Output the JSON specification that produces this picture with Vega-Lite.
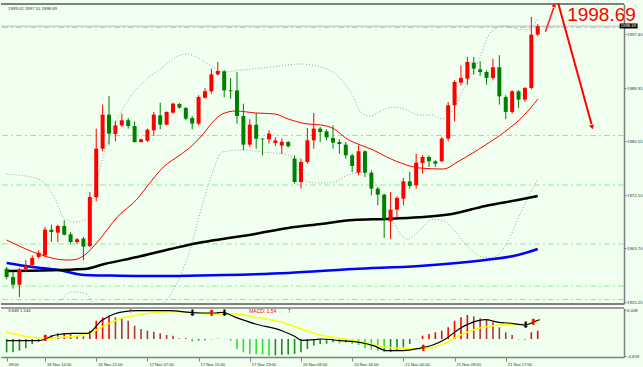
{
"$schema": "https://vega.github.io/schema/vega-lite/v6.json",
"background": "#f0fff0",
"padding": {"left": 0, "top": 2, "right": 0, "bottom": 0},
"spacing": 2,
"config": {"view": {"stroke": null}, "axis": {"title": null, "grid": false, "labelFont": "Liberation Sans", "labelFontSize": 4.3, "labelColor": "#333333", "domainColor": "#808080", "tickColor": "#808080", "tickSize": 2, "labelPadding": 0.5, "labelOverlap": false, "labelBound": false}},
"datasets": {
"one": [{}],
"candles": [
{"i":0,"o":1960.52,"h":1960.79,"l":1958.84,"c":1959.21},
{"i":1,"o":1959.21,"h":1960.00,"l":1957.38,"c":1958.00},
{"i":2,"o":1958.00,"h":1960.63,"l":1956.06,"c":1960.37},
{"i":3,"o":1960.42,"h":1961.84,"l":1960.00,"c":1960.94},
{"i":4,"o":1961.05,"h":1962.62,"l":1960.79,"c":1962.20},
{"i":5,"o":1962.36,"h":1963.41,"l":1962.10,"c":1963.04},
{"i":6,"o":1962.62,"h":1967.08,"l":1962.36,"c":1966.66},
{"i":7,"o":1966.66,"h":1967.45,"l":1964.72,"c":1966.29},
{"i":8,"o":1966.19,"h":1967.45,"l":1964.72,"c":1967.24},
{"i":9,"o":1967.24,"h":1968.13,"l":1965.77,"c":1965.87},
{"i":10,"o":1965.93,"h":1966.29,"l":1964.35,"c":1964.72},
{"i":11,"o":1964.72,"h":1965.35,"l":1964.46,"c":1965.14},
{"i":12,"o":1965.25,"h":1965.51,"l":1961.84,"c":1963.99},
{"i":13,"o":1964.09,"h":1972.59,"l":1963.93,"c":1971.80},
{"i":14,"o":1971.75,"h":1982.56,"l":1971.12,"c":1979.41},
{"i":15,"o":1979.41,"h":1986.34,"l":1978.99,"c":1984.76},
{"i":16,"o":1984.76,"h":1987.70,"l":1980.04,"c":1981.77},
{"i":17,"o":1981.72,"h":1983.77,"l":1980.57,"c":1983.08},
{"i":18,"o":1983.08,"h":1984.92,"l":1982.82,"c":1983.87},
{"i":19,"o":1983.87,"h":1984.24,"l":1982.56,"c":1982.98},
{"i":20,"o":1982.98,"h":1983.71,"l":1980.36,"c":1980.46},
{"i":21,"o":1980.46,"h":1980.99,"l":1980.36,"c":1980.88},
{"i":22,"o":1980.67,"h":1982.56,"l":1980.46,"c":1982.40},
{"i":23,"o":1982.30,"h":1985.18,"l":1981.41,"c":1984.76},
{"i":24,"o":1984.66,"h":1986.65,"l":1982.45,"c":1983.19},
{"i":25,"o":1983.19,"h":1985.29,"l":1983.08,"c":1985.18},
{"i":26,"o":1985.08,"h":1986.65,"l":1984.92,"c":1986.49},
{"i":27,"o":1986.44,"h":1986.60,"l":1985.71,"c":1985.86},
{"i":28,"o":1985.81,"h":1985.97,"l":1983.87,"c":1984.13},
{"i":29,"o":1984.24,"h":1984.55,"l":1982.45,"c":1983.35},
{"i":30,"o":1983.35,"h":1987.81,"l":1983.08,"c":1987.54},
{"i":31,"o":1987.43,"h":1988.96,"l":1987.28,"c":1988.44},
{"i":32,"o":1988.44,"h":1992.00,"l":1988.07,"c":1991.11},
{"i":33,"o":1991.11,"h":1993.05,"l":1990.95,"c":1991.64},
{"i":34,"o":1991.58,"h":1991.80,"l":1987.50,"c":1988.59},
{"i":35,"o":1988.59,"h":1990.53,"l":1987.28,"c":1988.45},
{"i":36,"o":1988.59,"h":1991.48,"l":1983.35,"c":1984.55},
{"i":37,"o":1984.55,"h":1986.49,"l":1979.15,"c":1980.04},
{"i":38,"o":1980.04,"h":1984.03,"l":1979.67,"c":1983.19},
{"i":39,"o":1983.19,"h":1985.02,"l":1979.41,"c":1980.99},
{"i":40,"o":1980.99,"h":1981.05,"l":1978.36,"c":1980.88},
{"i":41,"o":1980.88,"h":1982.30,"l":1980.20,"c":1981.77},
{"i":42,"o":1980.30,"h":1981.20,"l":1979.80,"c":1980.70},
{"i":43,"o":1979.90,"h":1981.00,"l":1978.60,"c":1980.50},
{"i":44,"o":1980.46,"h":1980.60,"l":1979.60,"c":1979.78},
{"i":45,"o":1977.84,"h":1978.36,"l":1973.90,"c":1974.16},
{"i":46,"o":1974.16,"h":1977.84,"l":1973.12,"c":1977.31},
{"i":47,"o":1977.31,"h":1982.66,"l":1977.05,"c":1980.72},
{"i":48,"o":1980.72,"h":1985.02,"l":1979.41,"c":1982.56},
{"i":49,"o":1982.56,"h":1982.82,"l":1980.46,"c":1982.03},
{"i":50,"o":1982.14,"h":1982.45,"l":1980.72,"c":1981.19},
{"i":51,"o":1981.09,"h":1983.08,"l":1979.41,"c":1980.36},
{"i":52,"o":1980.46,"h":1980.88,"l":1978.62,"c":1980.15},
{"i":53,"o":1980.04,"h":1980.46,"l":1977.84,"c":1978.36},
{"i":54,"o":1978.36,"h":1978.62,"l":1975.74,"c":1976.68},
{"i":55,"o":1975.63,"h":1979.94,"l":1975.21,"c":1979.00},
{"i":56,"o":1979.00,"h":1979.15,"l":1974.95,"c":1975.63},
{"i":57,"o":1975.63,"h":1976.00,"l":1972.07,"c":1973.12},
{"i":58,"o":1973.12,"h":1973.38,"l":1970.49,"c":1972.17},
{"i":59,"o":1972.17,"h":1972.33,"l":1965.35,"c":1968.39},
{"i":60,"o":1967.97,"h":1972.59,"l":1965.24,"c":1969.81},
{"i":61,"o":1969.81,"h":1971.91,"l":1968.66,"c":1971.65},
{"i":62,"o":1971.54,"h":1974.79,"l":1970.49,"c":1974.27},
{"i":63,"o":1974.27,"h":1975.74,"l":1973.12,"c":1973.53},
{"i":64,"o":1973.64,"h":1978.62,"l":1973.12,"c":1977.21},
{"i":65,"o":1977.16,"h":1978.37,"l":1975.48,"c":1978.10},
{"i":66,"o":1978.10,"h":1978.37,"l":1976.53,"c":1977.42},
{"i":67,"o":1977.42,"h":1977.58,"l":1976.53,"c":1977.05},
{"i":68,"o":1977.42,"h":1981.25,"l":1977.32,"c":1980.99},
{"i":69,"o":1980.99,"h":1986.76,"l":1980.57,"c":1986.24},
{"i":70,"o":1986.24,"h":1990.17,"l":1983.72,"c":1989.91},
{"i":71,"o":1989.80,"h":1992.53,"l":1989.38,"c":1990.54},
{"i":72,"o":1990.43,"h":1993.84,"l":1989.49,"c":1993.06},
{"i":73,"o":1992.95,"h":1993.84,"l":1991.06,"c":1992.01},
{"i":74,"o":1991.90,"h":1993.16,"l":1990.85,"c":1991.48},
{"i":75,"o":1991.48,"h":1991.74,"l":1989.49,"c":1990.54},
{"i":76,"o":1990.54,"h":1993.58,"l":1990.17,"c":1992.22},
{"i":77,"o":1992.22,"h":1994.11,"l":1986.34,"c":1987.65},
{"i":78,"o":1987.55,"h":1987.81,"l":1984.03,"c":1985.19},
{"i":79,"o":1985.19,"h":1988.60,"l":1984.92,"c":1988.44},
{"i":80,"o":1988.44,"h":1988.60,"l":1985.82,"c":1987.13},
{"i":81,"o":1987.13,"h":1989.12,"l":1986.76,"c":1988.96},
{"i":82,"o":1988.96,"h":2000.14,"l":1988.75,"c":1997.36},
{"i":83,"o":1997.36,"h":1999.02,"l":1997.10,"c":1998.69}
],
"maRed": [
{"i":0,"v":1965.03},{"i":3,"v":1963.62},{"i":5,"v":1962.83},{"i":9.1,"v":1961.89},{"i":10.2,"v":1961.89},{"i":12.2,"v":1962.67},{"i":14.2,"v":1964.72},{"i":17.3,"v":1968.66},{"i":20.4,"v":1971.49},{"i":22.5,"v":1974.17},{"i":24.5,"v":1976.53},{"i":27.1,"v":1978.41},{"i":29.1,"v":1980.0},{"i":30.7,"v":1981.7},{"i":32.2,"v":1983.6},{"i":33.7,"v":1984.87},{"i":35.8,"v":1985.34},{"i":38.9,"v":1985.03},{"i":41.9,"v":1984.87},{"i":44,"v":1984.08},{"i":47.1,"v":1983.29},{"i":49.1,"v":1983.14},{"i":51.2,"v":1982.51},{"i":53.2,"v":1980.93},{"i":55.3,"v":1979.98},{"i":57.3,"v":1979.2},{"i":59.4,"v":1978.1},{"i":62.5,"v":1976.84},{"i":64.5,"v":1976.37},{"i":68.2,"v":1976.2},{"i":70.7,"v":1977.47},{"i":74.8,"v":1979.98},{"i":77.8,"v":1982.03},{"i":80.9,"v":1984.71},{"i":83,"v":1987.2}
],
"maBlack": [
{"i":0,"v":1960.15},{"i":12.2,"v":1960.47},{"i":15.3,"v":1961.26},{"i":20.4,"v":1962.36},{"i":25.6,"v":1963.62},{"i":30.7,"v":1964.72},{"i":33.7,"v":1965.19},{"i":38.8,"v":1965.98},{"i":44,"v":1966.93},{"i":49.1,"v":1967.55},{"i":54.2,"v":1968.18},{"i":59.4,"v":1968.34},{"i":64.5,"v":1968.6},{"i":69.6,"v":1969.13},{"i":74.8,"v":1970.39},{"i":79.9,"v":1971.33},{"i":83,"v":1971.96}
],
"maBlue": [
{"i":0,"v":1961.41},{"i":4,"v":1960.78},{"i":8.1,"v":1960.31},{"i":12.2,"v":1959.52},{"i":15.3,"v":1959.45},{"i":20.4,"v":1959.37},{"i":25.6,"v":1959.37},{"i":33.7,"v":1959.52},{"i":44,"v":1959.84},{"i":54.2,"v":1960.47},{"i":64.5,"v":1960.94},{"i":74.8,"v":1961.89},{"i":79.9,"v":1962.67},{"i":83,"v":1963.62}
],
"bbUp": [
{"i":0,"v":1975.42},{"i":5,"v":1974.63},{"i":7.6,"v":1971.49},{"i":9.1,"v":1968.34},{"i":10.7,"v":1967.87},{"i":12.7,"v":1968.34},{"i":13.7,"v":1972.59},{"i":15.3,"v":1978.89},{"i":16.8,"v":1983.14},{"i":18.8,"v":1986.76},{"i":21.4,"v":1989.91},{"i":24,"v":1991.95},{"i":26.5,"v":1993.84},{"i":28.1,"v":1994.31},{"i":29.6,"v":1993.84},{"i":31.7,"v":1992.58},{"i":33.7,"v":1991.48},{"i":36.8,"v":1991.79},{"i":41.4,"v":1992.27},{"i":46,"v":1992.74},{"i":49.1,"v":1992.27},{"i":52.2,"v":1990.38},{"i":54.2,"v":1987.55},{"i":55.3,"v":1985.19},{"i":56.8,"v":1984.55},{"i":58.8,"v":1985.5},{"i":60.4,"v":1985.97},{"i":62.5,"v":1985.5},{"i":64.5,"v":1984.71},{"i":66.5,"v":1984.71},{"i":68.1,"v":1984.08},{"i":69.6,"v":1985.19},{"i":71.7,"v":1989.44},{"i":73.7,"v":1993.05},{"i":75.7,"v":1997.78},{"i":77.9,"v":1998.72},{"i":79.9,"v":1998.25},{"i":81.4,"v":1998.09},{"i":83,"v":1999.82}
],
"bbLow": [
{"i":0,"v":1953.5},{"i":4,"v":1952.5},{"i":7.6,"v":1954.8},{"i":10.2,"v":1956.85},{"i":12.2,"v":1956.7},{"i":13.7,"v":1954.8},{"i":16,"v":1951.5},{"i":20,"v":1951.0},{"i":24,"v":1954.2},{"i":26.5,"v":1958.0},{"i":28.7,"v":1963.6},{"i":30.7,"v":1971.0},{"i":32.2,"v":1975.74},{"i":33.7,"v":1978.89},{"i":36.8,"v":1979.2},{"i":39.9,"v":1978.89},{"i":44,"v":1978.41},{"i":45,"v":1977.62},{"i":46,"v":1975.26},{"i":47.1,"v":1974.16},{"i":49.1,"v":1974.0},{"i":51.1,"v":1974.16},{"i":53.3,"v":1975.26},{"i":55.3,"v":1975.74},{"i":56.8,"v":1975.26},{"i":58.4,"v":1972.12},{"i":60.4,"v":1967.87},{"i":62.5,"v":1965.2},{"i":64.5,"v":1966.5},{"i":66.5,"v":1968.3},{"i":68.5,"v":1968.0},{"i":70,"v":1966.5},{"i":72.2,"v":1963.8},{"i":74.8,"v":1962.3},{"i":76.3,"v":1962.4},{"i":78.4,"v":1965.0},{"i":80.4,"v":1969.5},{"i":83,"v":1974.6}
],
"levels": [{"p":1998.48},{"p":1981.48},{"p":1973.69},{"p":1964.41},{"p":1957.79},{"p":1955.67}],
"macd": [
{"i":0,"v":-2.76},{"i":1,"v":-2.76},{"i":2,"v":-2.41},{"i":3,"v":-1.93},{"i":4,"v":-1.03},{"i":5,"v":-0.55},{"i":6,"v":0.69},{"i":7,"v":0.83},{"i":8,"v":1.17},{"i":9,"v":1.17},{"i":10,"v":1.03},{"i":11,"v":0.83},{"i":12,"v":0.55},{"i":13,"v":1.72},{"i":14,"v":3.79},{"i":15,"v":4.48},{"i":16,"v":4.83},{"i":17,"v":4.48},{"i":18,"v":4.14},{"i":19,"v":3.79},{"i":20,"v":2.76},{"i":21,"v":2.07},{"i":22,"v":1.72},{"i":23,"v":1.52},{"i":24,"v":1.17},{"i":25,"v":0.83},{"i":26,"v":0.69},{"i":27,"v":0.14},{"i":28,"v":0.14},{"i":29,"v":-0.55},{"i":30,"v":-0.34},{"i":31,"v":-0.28},{"i":32,"v":-0.07},{"i":33,"v":0.07},{"i":34,"v":-0.07},{"i":35,"v":-0.34},{"i":36,"v":-2.07},{"i":37,"v":-2.76},{"i":38,"v":-3.1},{"i":39,"v":-3.15},{"i":40,"v":-3.2},{"i":41,"v":-3.45},{"i":42,"v":-3.4},{"i":43,"v":-3.3},{"i":44,"v":-3.2},{"i":45,"v":-3.1},{"i":46,"v":-2.76},{"i":47,"v":-2.07},{"i":48,"v":-1.38},{"i":49,"v":-1.03},{"i":50,"v":-1.0},{"i":51,"v":-0.69},{"i":52,"v":-0.9},{"i":53,"v":-0.69},{"i":54,"v":-1.03},{"i":55,"v":-1.24},{"i":56,"v":-1.93},{"i":57,"v":-2.21},{"i":58,"v":-2.41},{"i":59,"v":-2.76},{"i":60,"v":-2.7},{"i":61,"v":-2.41},{"i":62,"v":-1.72},{"i":63,"v":-1.03},{"i":64,"v":-0.07},{"i":65,"v":0.69},{"i":66,"v":1.03},{"i":67,"v":1.38},{"i":68,"v":1.72},{"i":69,"v":2.41},{"i":70,"v":3.79},{"i":71,"v":4.48},{"i":72,"v":4.97},{"i":73,"v":4.69},{"i":74,"v":4.28},{"i":75,"v":4.0},{"i":76,"v":3.45},{"i":77,"v":2.41},{"i":78,"v":1.38},{"i":79,"v":0.83},{"i":80,"v":-0.14},{"i":81,"v":-0.14},{"i":82,"v":1.38},{"i":83,"v":1.72}
],
"macdMain": [
{"i":0,"v":-0.34},{"i":5,"v":-0.34},{"i":7.6,"v":0.83},{"i":10.2,"v":1.17},{"i":12.7,"v":1.17},{"i":14.8,"v":3.79},{"i":16.8,"v":5.17},{"i":18.4,"v":5.66},{"i":20.4,"v":5.86},{"i":25.5,"v":5.86},{"i":28.6,"v":5.52},{"i":30.7,"v":5.38},{"i":32.7,"v":5.38},{"i":33.7,"v":5.52},{"i":35.8,"v":4.48},{"i":38.9,"v":3.1},{"i":43,"v":1.72},{"i":45,"v":0.55},{"i":46.1,"v":-0.28},{"i":48.1,"v":-0.14},{"i":49.1,"v":0},{"i":52.2,"v":-0.34},{"i":55.2,"v":-0.69},{"i":57.3,"v":-1.38},{"i":59.4,"v":-2.41},{"i":62,"v":-2.41},{"i":64.5,"v":-1.93},{"i":66.6,"v":-1.24},{"i":68.6,"v":0},{"i":70.7,"v":2.07},{"i":72.8,"v":3.45},{"i":74.8,"v":4.0},{"i":76.9,"v":3.45},{"i":78.4,"v":3.31},{"i":81,"v":2.9},{"i":82.5,"v":3.59},{"i":83.3,"v":4.0}
],
"macdSig": [
{"i":0,"v":1.38},{"i":1.95,"v":0.83},{"i":4,"v":0.34},{"i":6.05,"v":0.14},{"i":8.1,"v":0.34},{"i":11.2,"v":0.69},{"i":13.2,"v":1.38},{"i":15.3,"v":2.76},{"i":17.3,"v":4.0},{"i":20.4,"v":4.97},{"i":25.5,"v":5.66},{"i":28.6,"v":5.66},{"i":31.7,"v":5.17},{"i":35.8,"v":5.17},{"i":38.9,"v":4.48},{"i":43,"v":3.45},{"i":46.1,"v":2.07},{"i":49.1,"v":0.76},{"i":52.2,"v":0.14},{"i":55.2,"v":-0.55},{"i":59.4,"v":-1.72},{"i":63.5,"v":-2.07},{"i":65.6,"v":-1.93},{"i":67.6,"v":-1.38},{"i":70.7,"v":0.69},{"i":73.8,"v":2.21},{"i":76.9,"v":2.9},{"i":80,"v":3.1},{"i":83.1,"v":3.31}
],
"upArrows": [{"i":6.05,"v":0.3},{"i":32,"v":5.3},{"i":65.1,"v":-1.9},{"i":82.3,"v":3.5}],
"downArrows": [{"i":29,"v":5.4},{"i":34,"v":5.4},{"i":81.1,"v":3.0}],
"thinArrows": [{"i":19.4,"v":5.8},{"i":44.2,"v":5.7}]
},
"vconcat": [
{
"width": 623, "height": 300,
"layer": [
{"data": {"name": "one"}, "mark": {"type": "rule", "color": "#808080", "strokeWidth": 2}, "encoding": {"y": {"datum": 2002.18, "type": "quantitative", "scale": {"domain": [1954.96, 2002.18], "nice": false, "zero": false}}}},
{"data": {"name": "one"}, "mark": {"type": "rule", "color": "#808080", "strokeWidth": 2}, "encoding": {"y": {"datum": 1954.96, "type": "quantitative"}}},
{"data": {"name": "levels"}, "mark": {"type": "rule", "color": "#90ee90", "strokeWidth": 1, "strokeDash": [6, 3, 2, 3]}, "encoding": {"y": {"field": "p", "type": "quantitative"}}},
{"data": {"name": "one"}, "mark": {"type": "rule", "color": "#b8b8b8", "strokeWidth": 1}, "encoding": {"y": {"datum": 1998.69, "type": "quantitative"}}},
{"data": {"name": "bbUp"}, "mark": {"type": "line", "color": "#a0a0a0", "strokeWidth": 1, "strokeDash": [1, 2], "clip": true, "interpolate": "monotone"}, "encoding": {"x": {"field": "i", "type": "quantitative", "axis": null, "scale": {"domain": [-0.1, 95.7], "nice": false, "zero": false}}, "y": {"field": "v", "type": "quantitative"}}},
{"data": {"name": "bbLow"}, "mark": {"type": "line", "color": "#a0a0a0", "strokeWidth": 1, "strokeDash": [1, 2], "clip": true, "interpolate": "monotone"}, "encoding": {"x": {"field": "i", "type": "quantitative", "axis": null}, "y": {"field": "v", "type": "quantitative"}}},
{"data": {"name": "maBlue"}, "mark": {"type": "line", "color": "#0000ff", "strokeWidth": 2.5, "interpolate": "monotone"}, "encoding": {"x": {"field": "i", "type": "quantitative", "axis": null}, "y": {"field": "v", "type": "quantitative"}}},
{"data": {"name": "maBlack"}, "mark": {"type": "line", "color": "#000000", "strokeWidth": 2.5, "interpolate": "monotone"}, "encoding": {"x": {"field": "i", "type": "quantitative", "axis": null}, "y": {"field": "v", "type": "quantitative"}}},
{"data": {"name": "maRed"}, "mark": {"type": "line", "color": "#ff0000", "strokeWidth": 1, "interpolate": "monotone"}, "encoding": {"x": {"field": "i", "type": "quantitative", "axis": null}, "y": {"field": "v", "type": "quantitative"}}},
{"data": {"name": "candles"}, "mark": {"type": "rule", "strokeWidth": 1}, "encoding": {"x": {"field": "i", "type": "quantitative", "axis": null}, "y": {"field": "l", "type": "quantitative"}, "y2": {"field": "h"}, "color": {"condition": {"test": "datum.c >= datum.o", "value": "#ff0000"}, "value": "#008000"}}},
{"data": {"name": "candles"}, "mark": {"type": "bar", "size": 4, "minBandSize": 1}, "encoding": {"x": {"field": "i", "type": "quantitative", "axis": null}, "y": {"field": "o", "type": "quantitative", "axis": {"orient": "right", "values": [2001.60, 1999.50, 1997.40, 1995.25, 1993.15, 1991.05, 1988.95, 1986.85, 1984.75, 1982.65, 1980.55, 1978.40, 1976.30, 1974.20, 1972.10, 1970.00, 1967.90, 1965.80, 1963.70, 1961.55, 1959.45, 1957.35, 1955.25], "format": ".2f", "domain": true, "domainWidth": 1.5, "labelOverlap": false, "labelFontSize": 4.3, "tickSize": 2, "labelPadding": 0.5}}, "y2": {"field": "c"}, "color": {"condition": {"test": "datum.c >= datum.o", "value": "#ff0000"}, "value": "#008000"}}},
{"data": {"name": "one"}, "mark": {"type": "text", "text": "1999.02 1997.10 1998.69", "align": "left", "baseline": "middle", "fontSize": 4.3, "font": "Liberation Sans", "color": "#333333", "dx": 2}, "encoding": {"x": {"datum": -0.1, "type": "quantitative"}, "y": {"datum": 2001.4, "type": "quantitative"}}},
{"data": {"name": "one"}, "mark": {"type": "text", "text": "1998.69", "align": "left", "baseline": "middle", "fontSize": 19, "font": "Liberation Sans", "color": "#ff0000", "clip": false}, "encoding": {"x": {"datum": 87.6, "type": "quantitative"}, "y": {"datum": 2000.5, "type": "quantitative"}}},
{"data": {"name": "one"}, "mark": {"type": "rule", "color": "#000000", "strokeWidth": 5, "clip": false}, "encoding": {"x": {"datum": 95.8, "type": "quantitative"}, "x2": {"datum": 98.6}, "y": {"datum": 1998.72, "type": "quantitative"}}},
{"data": {"name": "one"}, "mark": {"type": "text", "text": "1998.69", "align": "left", "baseline": "middle", "fontSize": 4.3, "font": "Liberation Sans", "color": "#ffffff", "clip": false, "dx": 1}, "encoding": {"x": {"datum": 95.8, "type": "quantitative"}, "y": {"datum": 1998.72, "type": "quantitative"}}},
{"data": {"name": "one"}, "mark": {"type": "rule", "color": "#ff2020", "strokeWidth": 1.6, "clip": false}, "encoding": {"x": {"datum": 84.2, "type": "quantitative"}, "x2": {"datum": 85.5}, "y": {"datum": 1997.8, "type": "quantitative"}, "y2": {"datum": 2001.6}}},
{"data": {"name": "one"}, "mark": {"type": "point", "shape": "triangle-up", "filled": true, "color": "#ff0000", "size": 22, "angle": 18, "opacity": 1, "clip": false}, "encoding": {"x": {"datum": 85.6, "type": "quantitative"}, "y": {"datum": 2002.0, "type": "quantitative"}}},
{"data": {"name": "one"}, "mark": {"type": "rule", "color": "#ff0000", "strokeWidth": 2, "clip": false}, "encoding": {"x": {"datum": 86.2, "type": "quantitative"}, "x2": {"datum": 91.4}, "y": {"datum": 2002.3, "type": "quantitative"}, "y2": {"datum": 1983.3}}},
{"data": {"name": "one"}, "mark": {"type": "point", "shape": "triangle-up", "filled": true, "color": "#ff0000", "size": 28, "angle": 164, "opacity": 1, "clip": false}, "encoding": {"x": {"datum": 91.5, "type": "quantitative"}, "y": {"datum": 1982.8, "type": "quantitative"}}}
]
},
{
"width": 623, "height": 49,
"layer": [
{"data": {"name": "one"}, "mark": {"type": "rule", "color": "#808080", "strokeWidth": 1.5}, "encoding": {"y": {"datum": 6.42, "type": "quantitative", "scale": {"domain": [-3.73, 6.42], "nice": false, "zero": false}}}},
{"data": {"name": "macd"}, "transform": [{"window": [{"op": "lag", "field": "v", "as": "pv"}], "sort": [{"field": "i"}]}, {"calculate": "datum.v >= 0 ? (datum.pv == null || datum.v >= datum.pv ? 'ru' : 'rd') : (datum.pv != null && datum.v < datum.pv ? 'gd' : 'gu')", "as": "cat"}], "mark": {"type": "bar", "size": 1.6}, "encoding": {"x": {"field": "i", "type": "quantitative", "scale": {"domain": [-0.1, 95.7], "nice": false, "zero": false}, "axis": {"orient": "bottom", "values": [0, 2, 6, 10, 14, 18, 22, 26, 30, 34, 38, 42, 46, 50, 54, 58, 62, 66, 70, 74, 78, 82], "labelExpr": "['09:00','16 Nov 10:00','16 Nov 14:00','16 Nov 18:00','16 Nov 22:00','17 Nov 02:00','17 Nov 07:00','17 Nov 11:00','17 Nov 15:00','17 Nov 19:00','17 Nov 23:00','18 Nov 03:00','20 Nov 08:00','20 Nov 12:00','20 Nov 16:00','20 Nov 20:00','21 Nov 00:00','21 Nov 04:00','21 Nov 09:00','21 Nov 13:00','21 Nov 17:00','21 Nov 21:00'][datum.value == 0 ? 0 : (datum.value + 2) / 4]", "labelAlign": "left", "labelOffset": 1.5, "tickSize": 4, "labelPadding": 1, "labelFlush": false, "labelOverlap": false, "labelFontSize": 4.1, "domainWidth": 1.5}}, "y": {"field": "v", "type": "quantitative", "axis": {"orient": "right", "values": [6.0, 0, -3.55], "labelExpr": "datum.value > 1 ? '6.008' : (datum.value < -1 ? '-4.659' : '0.00')", "domainWidth": 1.5, "labelOverlap": false}}, "y2": {"datum": 0}, "color": {"field": "cat", "type": "nominal", "legend": null, "scale": {"domain": ["ru", "rd", "gd", "gu"], "range": ["#ff0000", "#b03a3a", "#33dd33", "#1e8c1e"]}}}},
{"data": {"name": "macdSig"}, "mark": {"type": "line", "color": "#ffff00", "strokeWidth": 1.5, "interpolate": "monotone"}, "encoding": {"x": {"field": "i", "type": "quantitative"}, "y": {"field": "v", "type": "quantitative"}}},
{"data": {"name": "macdMain"}, "mark": {"type": "line", "color": "#000000", "strokeWidth": 1.2, "interpolate": "monotone"}, "encoding": {"x": {"field": "i", "type": "quantitative"}, "y": {"field": "v", "type": "quantitative"}}},
{"data": {"name": "upArrows"}, "mark": {"type": "text", "text": "⬆", "fontSize": 9, "font": "DejaVu Sans", "color": "#ff0000", "baseline": "middle", "align": "center"}, "encoding": {"x": {"field": "i", "type": "quantitative"}, "y": {"field": "v", "type": "quantitative"}}},
{"data": {"name": "downArrows"}, "mark": {"type": "text", "text": "⬇", "fontSize": 9, "font": "DejaVu Sans", "color": "#000000", "baseline": "middle", "align": "center"}, "encoding": {"x": {"field": "i", "type": "quantitative"}, "y": {"field": "v", "type": "quantitative"}}},
{"data": {"name": "thinArrows"}, "mark": {"type": "text", "text": "↑", "fontSize": 6, "font": "DejaVu Sans", "color": "#ff3030", "baseline": "middle", "align": "center"}, "encoding": {"x": {"field": "i", "type": "quantitative"}, "y": {"field": "v", "type": "quantitative"}}},
{"data": {"name": "one"}, "mark": {"type": "text", "text": "3.848 1.544", "align": "left", "baseline": "middle", "fontSize": 4.3, "font": "Liberation Sans", "color": "#333333", "dx": 2}, "encoding": {"x": {"datum": -0.1, "type": "quantitative"}, "y": {"datum": 5.8, "type": "quantitative"}}},
{"data": {"name": "one"}, "mark": {"type": "text", "text": "MACD:  1.54", "align": "left", "baseline": "middle", "fontSize": 5, "font": "Liberation Sans", "color": "#ff0000"}, "encoding": {"x": {"datum": 37.9, "type": "quantitative"}, "y": {"datum": 5.8, "type": "quantitative"}}}
]
}
]
}
